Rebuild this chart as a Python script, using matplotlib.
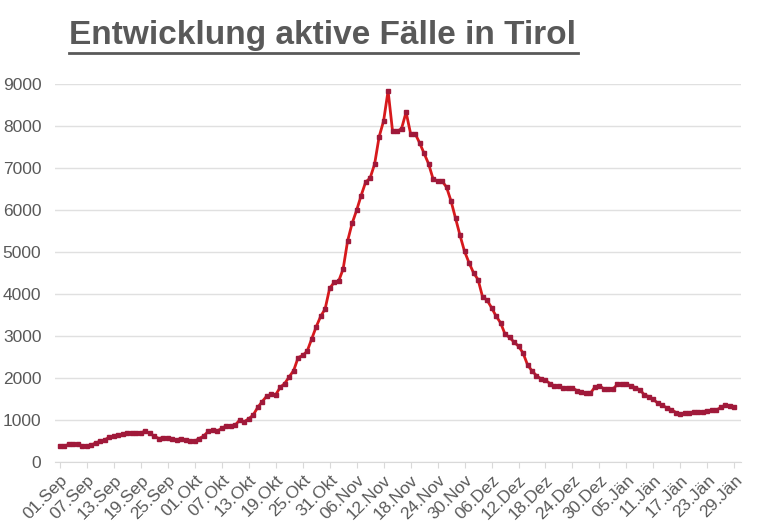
import numpy as np
import pandas as pd
import matplotlib.pyplot as plt

# daily active cases, 01.Sep .. 29.Jän
values = [
    380, 380, 420, 430, 420, 390,
    390, 400, 460, 490, 530, 590,
    610, 640, 660, 700, 690, 700,
    700, 730, 680, 620, 560, 580,
    570, 550, 530, 560, 520, 510,
    500, 560, 620, 730, 760, 740,
    800, 860, 870, 880, 1000, 960,
    1030, 1120, 1300, 1440, 1570, 1610,
    1600, 1780, 1870, 2030, 2180, 2490,
    2540, 2640, 2930, 3220, 3470, 3650,
    4140, 4280, 4310, 4600, 5270, 5690,
    6000, 6350, 6670, 6770, 7100, 7750,
    8130, 8850, 7880, 7880, 7950, 8340,
    7830, 7830, 7610, 7360, 7110, 6750,
    6700, 6700, 6550, 6220, 5810, 5400,
    5020, 4750, 4510, 4350, 3940, 3860,
    3680, 3480, 3320, 3050, 2970, 2860,
    2760, 2600, 2320, 2170, 2060, 1980,
    1950, 1870, 1810, 1810, 1760, 1770,
    1770, 1700, 1660, 1640, 1640, 1790,
    1820, 1740, 1750, 1740, 1850, 1860,
    1850, 1820, 1770, 1720, 1600, 1560,
    1490, 1400, 1350, 1290, 1250, 1180,
    1150, 1160, 1180, 1190, 1190, 1200,
    1220, 1230, 1240, 1300, 1360, 1330,
    1300,
]
dates = pd.date_range('2020-09-01', periods=len(values), freq='D')
months = {9: 'Sep', 10: 'Okt', 11: 'Nov', 12: 'Dez', 1: 'Jän'}
tick_idx = list(range(0, len(values), 6))
tick_labels = [f"{dates[i].day:02d}.{months[dates[i].month]}" for i in tick_idx]

plt.rcParams['font.family'] = ['Liberation Sans', 'DejaVu Sans']
fig, ax = plt.subplots(figsize=(7.68, 5.28), dpi=100)
fig.subplots_adjust(left=0.072, right=0.965, top=0.84, bottom=0.125)

x = np.arange(len(values))
ax.plot(x, values, color='#D7191C', linewidth=2, marker='s', markersize=2.6,
        markerfacecolor='#A0193A', markeredgecolor='#A0193A')

ax.set_ylim(0, 9000)
ax.set_yticks(range(0, 9001, 1000))
ax.set_xlim(-1, len(values) + 0.5)
ax.set_xticks(tick_idx)
ax.set_xticklabels(tick_labels, rotation=45, ha='right', rotation_mode='anchor')
ax.tick_params(axis='both', colors='#595959', labelsize=12.5, length=4)
ax.tick_params(axis='y', length=0, pad=10)
ax.tick_params(axis='x', color='#D9D9D9')
ax.grid(axis='y', color='#E0E0E0', linewidth=1)
ax.set_axisbelow(True)
for s in ['top', 'right', 'left']:
    ax.spines[s].set_visible(False)
ax.spines['bottom'].set_color('#D9D9D9')

fig.text(0.09, 0.932, 'Entwicklung aktive Fälle in Tirol', fontsize=24, fontweight='bold',
         color='#595959', ha='left', va='center')
fig.add_artist(plt.Line2D([0.09, 0.752], [0.9, 0.9], color='#595959', linewidth=2))

plt.savefig('out.png', dpi=100)
